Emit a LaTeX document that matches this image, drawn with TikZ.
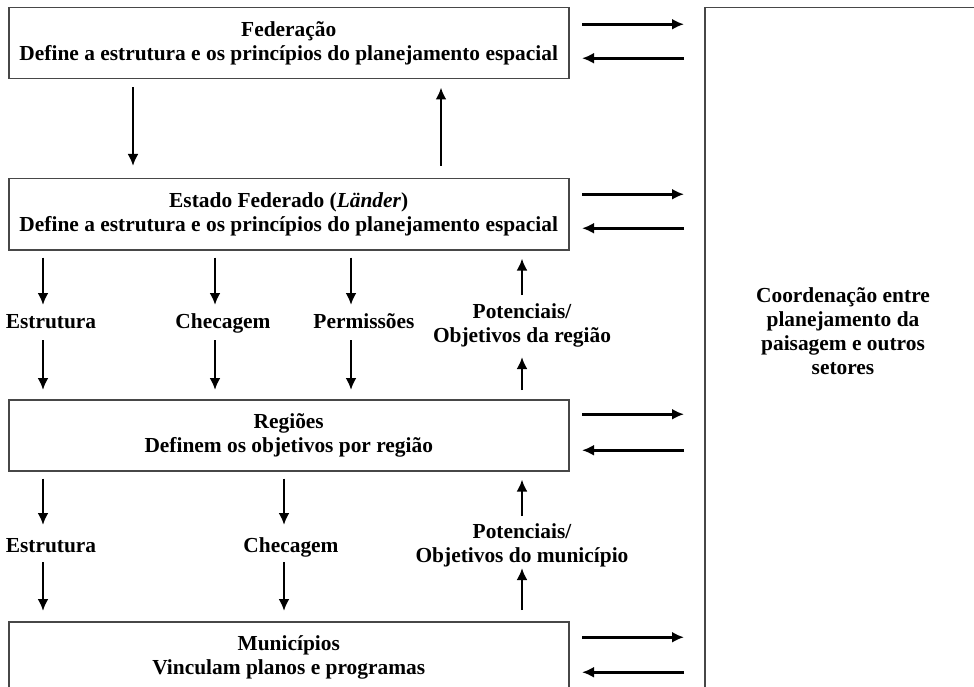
\documentclass[tikz,border=0pt]{standalone}
\usepackage{fontspec}
\setmainfont{Liberation Serif}
\usetikzlibrary{arrows.meta}
\begin{document}
\begin{tikzpicture}[x=1pt,y=-1pt,
  box/.style={draw=black!72, line width=1.5pt, minimum width=560pt, minimum height=71pt, anchor=north west, inner sep=0pt, align=center, font=\fontsize{21.4}{24}\selectfont\bfseries},
  lbl/.style={inner sep=0pt, align=center, font=\fontsize{21.4}{24}\selectfont\bfseries},
  arr/.style={line width=2.6pt, -{Latex[length=12pt,width=11pt]}},
  side/.style={draw=black!72, line width=1.5pt, minimum width=320pt, minimum height=720pt, anchor=north west, inner sep=0pt}
]
\useasboundingbox (0,0) rectangle (974,687);
\clip (0,0) rectangle (974,687);
\fill[white] (0,0) rectangle (974,687);

% boxes
\node[box] (fed) at (8,7) {Federação\\Define a estrutura e os princípios do planejamento espacial};
\node[box] (est) at (8,178) {Estado Federado (\textit{Länder})\\Define a estrutura e os princípios do planejamento espacial};
\node[box] (reg) at (8,399) {Regiões\\Definem os objetivos por região};
\node[box] (mun) at (8,621) {Municípios\\Vinculam planos e programas};
\node[side] (coord) at (704,7) {};
\node[lbl] (coordtxt) at (843,331) {Coordenação entre\\planejamento da\\paisagem e outros\\setores};

% columns
\coordinate (c1) at (133,0);
\coordinate (c2) at (441,0);
\coordinate (a1) at (43,0);
\coordinate (a2) at (215,0);
\coordinate (a3) at (351,0);
\coordinate (b2) at (284,0);
\coordinate (a4) at (522,0);
\coordinate (hr) at (582,0);
\coordinate (hl) at (684,0);

% labels
\node[lbl, anchor=base] (e1) at (51,328) {Estrutura};
\node[lbl, anchor=base] (k1) at (223,328) {Checagem};
\node[lbl, anchor=base] (p1) at (364,328) {Permissões};
\node[lbl] (o1) at (522,325) {Potenciais/\\Objetivos da região};
\node[lbl, anchor=base] (e2) at (51,552) {Estrutura};
\node[lbl, anchor=base] (k2) at (291,552) {Checagem};
\node[lbl] (o2) at (522,545) {Potenciais/\\Objetivos do município};

% federação <-> estado
\draw[arr, shorten <=8pt, shorten >=12pt] (fed.south -| c1) -- (est.north -| c1);
\draw[arr, shorten <=12pt, shorten >=8pt] (est.north -| c2) -- (fed.south -| c2);

% estado -> labels -> regiões
\foreach \n/\c in {e1/a1,k1/a2,p1/a3}{
  \draw[arr, shorten <=7pt, shorten >=23pt] (est.south -| \c) -- (\n.base -| \c);
  \draw[arr, shorten <=12pt, shorten >=9pt] (\n.base -| \c) -- (reg.north -| \c);
}
\draw[arr, shorten <=9pt, shorten >=32pt] (reg.north -| a4) -- (o1.center -| a4);
\draw[arr, shorten <=30pt, shorten >=8pt] (o1.center -| a4) -- (est.south -| a4);

% regiões -> labels -> municípios
\foreach \n/\c in {e2/a1,k2/b2}{
  \draw[arr, shorten <=7pt, shorten >=27pt] (reg.south -| \c) -- (\n.base -| \c);
  \draw[arr, shorten <=10pt, shorten >=10pt] (\n.base -| \c) -- (mun.north -| \c);
}
\draw[arr, shorten <=11pt, shorten >=23pt] (mun.north -| a4) -- (o2.center -| a4);
\draw[arr, shorten <=29pt, shorten >=8pt] (o2.center -| a4) -- (reg.south -| a4);

% horizontal arrows
\foreach \b/\ya/\yb in {fed/-19/15, est/-20/14, reg/-21/15, mun/-20/15}{
  \draw[arr] ([yshift=-\ya pt]\b.east -| hr) -- ([yshift=-\ya pt]\b.east -| hl);
  \draw[arr] ([yshift=-\yb pt]\b.east -| hl) -- ([yshift=-\yb pt]\b.east -| hr);
}
\end{tikzpicture}
\end{document}
